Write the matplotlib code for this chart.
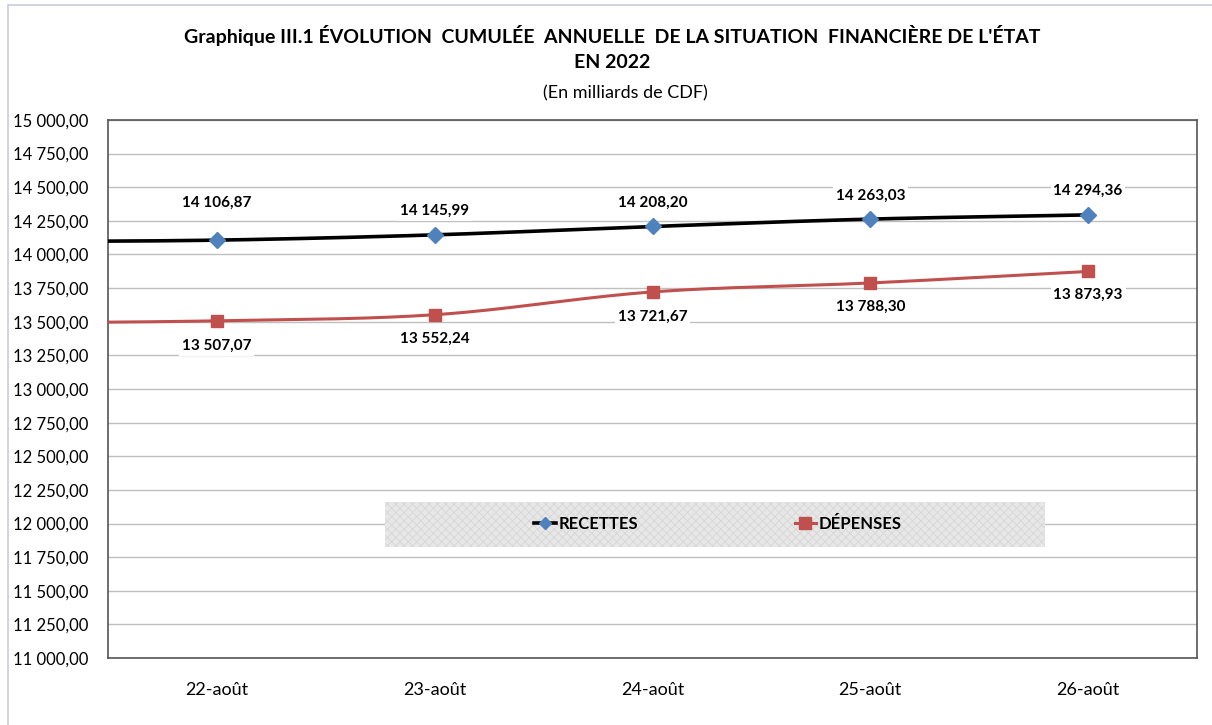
import numpy as np
import matplotlib
matplotlib.use('Agg')
from matplotlib import pyplot as plt
from matplotlib.patches import Rectangle

plt.rcParams['font.family'] = ['Lato', 'DejaVu Sans']
plt.rcParams['hatch.linewidth'] = 0.6

# donnees
dates = ['22-août', '23-août', '24-août', '25-août', '26-août']
recettes = [14106.87, 14145.99, 14208.20, 14263.03, 14294.36]
depenses = [13507.07, 13552.24, 13721.67, 13788.30, 13873.93]
# point precedent (hors du cadre), la courbe arrive depuis le bord gauche
recettes_avant = 14095.0
depenses_avant = 13490.0

bleu = '#4f81bd'
rouge = '#c0504d'


def lisse(xs, ys, n=30):
    # courbe lissee type Catmull-Rom (comme Excel)
    xs = np.asarray(xs, float)
    ys = np.asarray(ys, float)
    px = np.concatenate([[2 * xs[0] - xs[1]], xs, [2 * xs[-1] - xs[-2]]])
    py = np.concatenate([[2 * ys[0] - ys[1]], ys, [2 * ys[-1] - ys[-2]]])
    ox, oy = [], []
    t = np.linspace(0, 1, n)
    for i in range(1, len(px) - 2):
        for p, out in ((px, ox), (py, oy)):
            p0, p1, p2, p3 = p[i - 1], p[i], p[i + 1], p[i + 2]
            out.extend(0.5 * (2 * p1 + (-p0 + p2) * t + (2 * p0 - 5 * p1 + 4 * p2 - p3) * t ** 2
                              + (-p0 + 3 * p1 - 3 * p2 + p3) * t ** 3))
    return np.array(ox), np.array(oy)


fig = plt.figure(figsize=(12.12, 7.25), dpi=100)
ax = fig.add_axes([108 / 1212, 1 - 658 / 725, (1197 - 108) / 1212, (658 - 120) / 725])

# cadre exterieur du graphique
fig.patches.append(Rectangle((8 / 1212, -0.1), 1.1, 1 - 5 / 725 + 0.1, transform=fig.transFigure,
                             fill=False, edgecolor='#c9ccd9', lw=1.2))

x = np.arange(len(dates))
xr, yr = lisse(np.concatenate([[-1], x]), [recettes_avant] + recettes)
xd, yd = lisse(np.concatenate([[-1], x]), [depenses_avant] + depenses)

ax.plot(xr, yr, color='black', lw=2.6, zorder=3)
ax.plot(xd, yd, color=rouge, lw=2.2, zorder=3)
ax.plot(x, recettes, 'D', color=bleu, ms=8.5, zorder=4)
ax.plot(x, depenses, 's', color=rouge, ms=9, zorder=4)


def fmt(v):
    return f'{v:,.2f}'.replace(',', ' ').replace('.', ',')


# decalage des etiquettes (en points)
dec_rec = [27, 17, 17, 17, 17.5]
dec_dep = [-18, -17.5, -18, -17.5, -17]
for i in range(len(dates)):
    ax.annotate(fmt(recettes[i]), (x[i], recettes[i]), xytext=(0, dec_rec[i]), textcoords='offset points',
                ha='center', va='center', fontsize=11, fontweight='bold',
                bbox=dict(facecolor='white', edgecolor='none', pad=2))
    ax.annotate(fmt(depenses[i]), (x[i], depenses[i]), xytext=(0, dec_dep[i]), textcoords='offset points',
                ha='center', va='center', fontsize=11, fontweight='bold',
                bbox=dict(facecolor='white', edgecolor='none', pad=2))

ax.set_xlim(-0.5, 4.5)
ax.set_ylim(11000, 15000)
yt = np.arange(11000, 15001, 250)
ax.set_yticks(yt)
ax.set_yticklabels([fmt(v) for v in yt], fontsize=12)
ax.set_xticks(x)
ax.set_xticklabels(dates, fontsize=13)
ax.tick_params(axis='both', length=0)
ax.tick_params(axis='x', pad=17)
ax.tick_params(axis='y', pad=14)
ax.grid(axis='y', color='#bfbfbf', lw=1)
ax.set_axisbelow(True)
for s in ax.spines.values():
    s.set_color('#555555')
    s.set_linewidth(1.2)

# fond de la legende (texture grise)
fond = Rectangle(((385 - 108) / 1089, (658 - 547) / 538), (1045 - 385) / 1089, 45 / 538,
                 transform=ax.transAxes, facecolor='#e7e7e7', edgecolor='#d6d6d6', hatch='xxxx',
                 lw=0, zorder=5)
ax.add_patch(fond)

h1 = ax.plot([], [], color='black', lw=2.6, marker='D', mfc=bleu, mec=bleu, ms=6)[0]
h2 = ax.plot([], [], color=rouge, lw=2.2, marker='s', ms=8)[0]
leg = ax.legend([h1, h2], ['RECETTES', 'DÉPENSES'], ncol=2, loc='center',
                bbox_to_anchor=((718 - 108) / 1089, (658 - 524) / 538),
                frameon=False, handlelength=1.3, handletextpad=0.15,
                columnspacing=9.4, prop=dict(size=12, weight='bold'))
leg.set_zorder(6)

fig.text(612 / 1212, 1 - 35 / 725, "Graphique III.1 ÉVOLUTION  CUMULÉE  ANNUELLE  DE LA SITUATION  FINANCIÈRE DE L'ÉTAT",
         ha='center', va='center', fontsize=14, fontweight='bold')
fig.text(612 / 1212, 1 - 62 / 725, 'EN 2022', ha='center', va='center', fontsize=14, fontweight='bold')
fig.text(625 / 1212, 1 - 93 / 725, '(En milliards de CDF)', ha='center', va='center', fontsize=13)

fig.savefig('out.png', dpi=100)
